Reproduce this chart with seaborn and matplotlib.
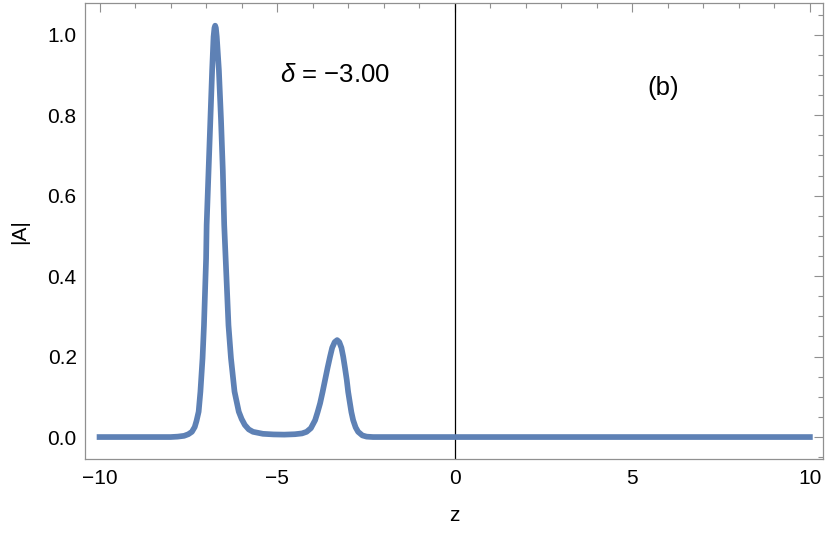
import numpy as np
import pandas as pd
import matplotlib
matplotlib.use("Agg")
import matplotlib.pyplot as plt
from matplotlib.ticker import MultipleLocator, FormatStrFormatter
import seaborn as sns

# ---- data ----
z = [-10.0, -8.0, -7.8, -7.62, -7.50, -7.40, -7.32, -7.27, -7.21, -7.16,
     -7.10, -7.06, -7.03, -7.00, -6.985, -6.93, -6.88, -6.83, -6.79, -6.765,
     -6.745, -6.725, -6.70, -6.64, -6.58, -6.53, -6.49, -6.45, -6.41, -6.37,
     -6.30, -6.20, -6.08, -6.00, -5.91, -5.80, -5.68, -5.40, -5.10, -4.80,
     -4.50, -4.30, -4.17, -4.05, -3.93, -3.86, -3.79, -3.72, -3.65, -3.58,
     -3.51, -3.45, -3.38, -3.31, -3.25, -3.19, -3.14, -3.09, -3.04, -3.00,
     -2.95, -2.91, -2.86, -2.79, -2.72, -2.60, -2.48, -2.30, 0.0, 10.0]
A = [0.0, 0.0, 0.001, 0.003, 0.007, 0.013, 0.025, 0.040, 0.063, 0.113,
     0.196, 0.278, 0.361, 0.444, 0.527, 0.664, 0.788, 0.912, 0.995, 1.017,
     1.0226, 1.017, 0.995, 0.912, 0.788, 0.664, 0.527, 0.444, 0.361, 0.278,
     0.196, 0.113, 0.063, 0.045, 0.030, 0.019, 0.013, 0.008, 0.0065, 0.006,
     0.007, 0.009, 0.013, 0.022, 0.042, 0.062, 0.084, 0.112, 0.142, 0.172,
     0.200, 0.222, 0.236, 0.241, 0.236, 0.222, 0.200, 0.172, 0.142, 0.112,
     0.084, 0.062, 0.042, 0.024, 0.013, 0.004, 0.001, 0.0, 0.0, 0.0]
delta_label = r"$\delta$ = −3.00"
panel_label = "(b)"
x_label = "z"
y_label = "|A|"

df = pd.DataFrame({"z": z, "A": A})

sns.set_style("white")
plt.rcParams["font.family"] = ["Liberation Sans", "DejaVu Sans"]
plt.rcParams["mathtext.fontset"] = "custom"
plt.rcParams["mathtext.it"] = "Liberation Sans:italic"
plt.rcParams["mathtext.rm"] = "Liberation Sans"
plt.rcParams["text.color"] = "black"
plt.rcParams["axes.labelcolor"] = "black"
plt.rcParams["xtick.labelcolor"] = "black"
plt.rcParams["ytick.labelcolor"] = "black"

fig = plt.figure(figsize=(8.30, 5.43), dpi=100)
ax = fig.add_axes([0.1024, 0.1541, 0.9916 - 0.1024, 0.9945 - 0.1541])

sns.lineplot(data=df, x="z", y="A", ax=ax, color="#5E81B5", linewidth=4.1,
             solid_capstyle="projecting", solid_joinstyle="round", sort=False)

ax.axvline(0, color="black", linewidth=0.9, zorder=1)

ax.set_xlim(-10.41, 10.37)
ax.set_ylim(-0.0554, 1.079)

ax.xaxis.set_major_locator(MultipleLocator(5))
ax.xaxis.set_minor_locator(MultipleLocator(1))
ax.yaxis.set_major_locator(MultipleLocator(0.2))
ax.yaxis.set_minor_locator(MultipleLocator(0.05))
ax.yaxis.set_major_formatter(FormatStrFormatter("%.1f"))

frame_col = "#909090"
for s in ax.spines.values():
    s.set_color(frame_col)
    s.set_linewidth(0.9)

ax.tick_params(which="both", direction="in", top=True, right=True,
               color=frame_col, width=0.8, labelsize=15, labelcolor="black")
ax.tick_params(which="major", length=6.2)
ax.tick_params(which="minor", length=3.4)
ax.tick_params(axis="x", which="major", pad=7)
ax.tick_params(axis="y", which="major", pad=6)

ax.set_xlabel(x_label, fontsize=15, labelpad=13, color="black")
ax.set_ylabel(y_label, fontsize=15, labelpad=13, color="black")

ax.text(-3.38, 0.882, delta_label, fontsize=18.5, ha="center", va="baseline",
        color="black")
ax.text(5.87, 0.850, panel_label, fontsize=18.5, ha="center", va="baseline",
        color="black")

fig.savefig("out.png", dpi=100)
